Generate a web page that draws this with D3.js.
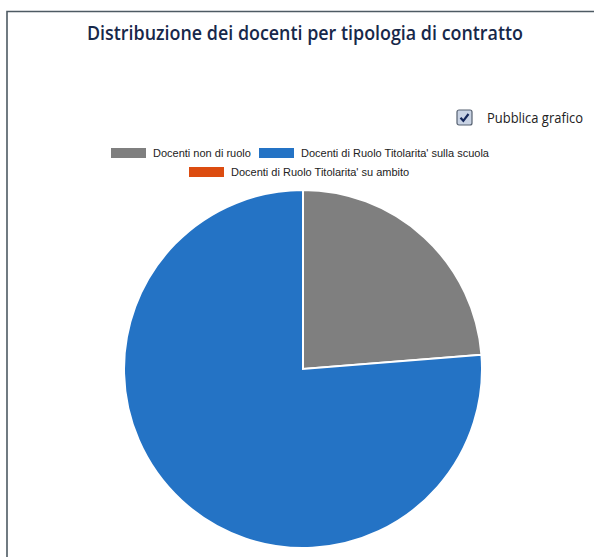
<!DOCTYPE html>
<html>
<head>
<meta charset="utf-8">
<script src="https://cdn.jsdelivr.net/npm/d3@7"></script>
<style>
  html, body { margin: 0; padding: 0; background: #fff; }
  svg { display: block; }
</style>
</head>
<body>
<div id="chart"></div>
<script>
const categories = [
  "Docenti non di ruolo",
  "Docenti di Ruolo Titolarita' sulla scuola",
  "Docenti di Ruolo Titolarita' su ambito"
];
const values = [14, 45, 0];
const colors = ["#7f7f7f", "#2473c5", "#dc4c10"];
const titleText = "Distribuzione dei docenti per tipologia di contratto";

const w = 594, h = 557;
const svg = d3.select("#chart").append("svg").attr("width", w).attr("height", h);

// panel frame
svg.append("path")
  .attr("d", `M7,${h} V11.5 H${w}`)
  .attr("fill", "none")
  .attr("stroke", "#4e5a63")
  .attr("stroke-width", 1.6);

svg.append("text")
  .attr("x", 305).attr("y", 40)
  .attr("text-anchor", "middle")
  .style("font-family", "'Open Sans', sans-serif")
  .style("font-size", "19px")
  .style("font-weight", "600")
  .style("fill", "#17284a")
  .attr("textLength", 436)
  .attr("lengthAdjust", "spacingAndGlyphs")
  .text(titleText);

// checkbox "Pubblica grafico"
const cb = svg.append("g").attr("transform", "translate(457,110)");
cb.append("rect").attr("width", 15).attr("height", 15).attr("rx", 2)
  .attr("fill", "#c9d3e4").attr("stroke", "#556070").attr("stroke-width", 1.2);
cb.append("path").attr("d", "M3.5,7.8 L6.3,10.8 L11.5,4")
  .attr("fill", "none").attr("stroke", "#15275a").attr("stroke-width", 2.2);
svg.append("text")
  .attr("x", 487).attr("y", 123)
  .style("font-family", "'Open Sans', sans-serif")
  .style("font-size", "14px")
  .style("fill", "#222")
  .attr("textLength", 96)
  .attr("lengthAdjust", "spacingAndGlyphs")
  .text("Pubblica grafico");

// legend
const legendPos = [
  { x: 111, y: 148 },
  { x: 259, y: 148 },
  { x: 189, y: 167 }
];
const legend = svg.selectAll(".leg").data(categories).enter().append("g")
  .attr("class", "leg")
  .attr("transform", (d, i) => `translate(${legendPos[i].x},${legendPos[i].y})`);
legend.append("rect").attr("width", 35).attr("height", 10)
  .attr("fill", (d, i) => colors[i]);
legend.append("text")
  .attr("x", 42).attr("y", 9)
  .style("font-family", "'Liberation Sans', Arial, sans-serif")
  .style("font-size", "11px")
  .style("fill", "#222")
  .text(d => d);

// pie
const cx = 303, cy = 369, r = 179;
const pie = d3.pie().sort(null).value(d => d);
const arc = d3.arc().innerRadius(0).outerRadius(r);
svg.append("g").attr("transform", `translate(${cx},${cy})`)
  .selectAll("path").data(pie(values)).enter().append("path")
  .attr("d", arc)
  .attr("fill", (d, i) => colors[i])
  .attr("stroke", "#fff")
  .attr("stroke-width", d => d.value > 0 ? 2 : 0);
</script>
</body>
</html>
